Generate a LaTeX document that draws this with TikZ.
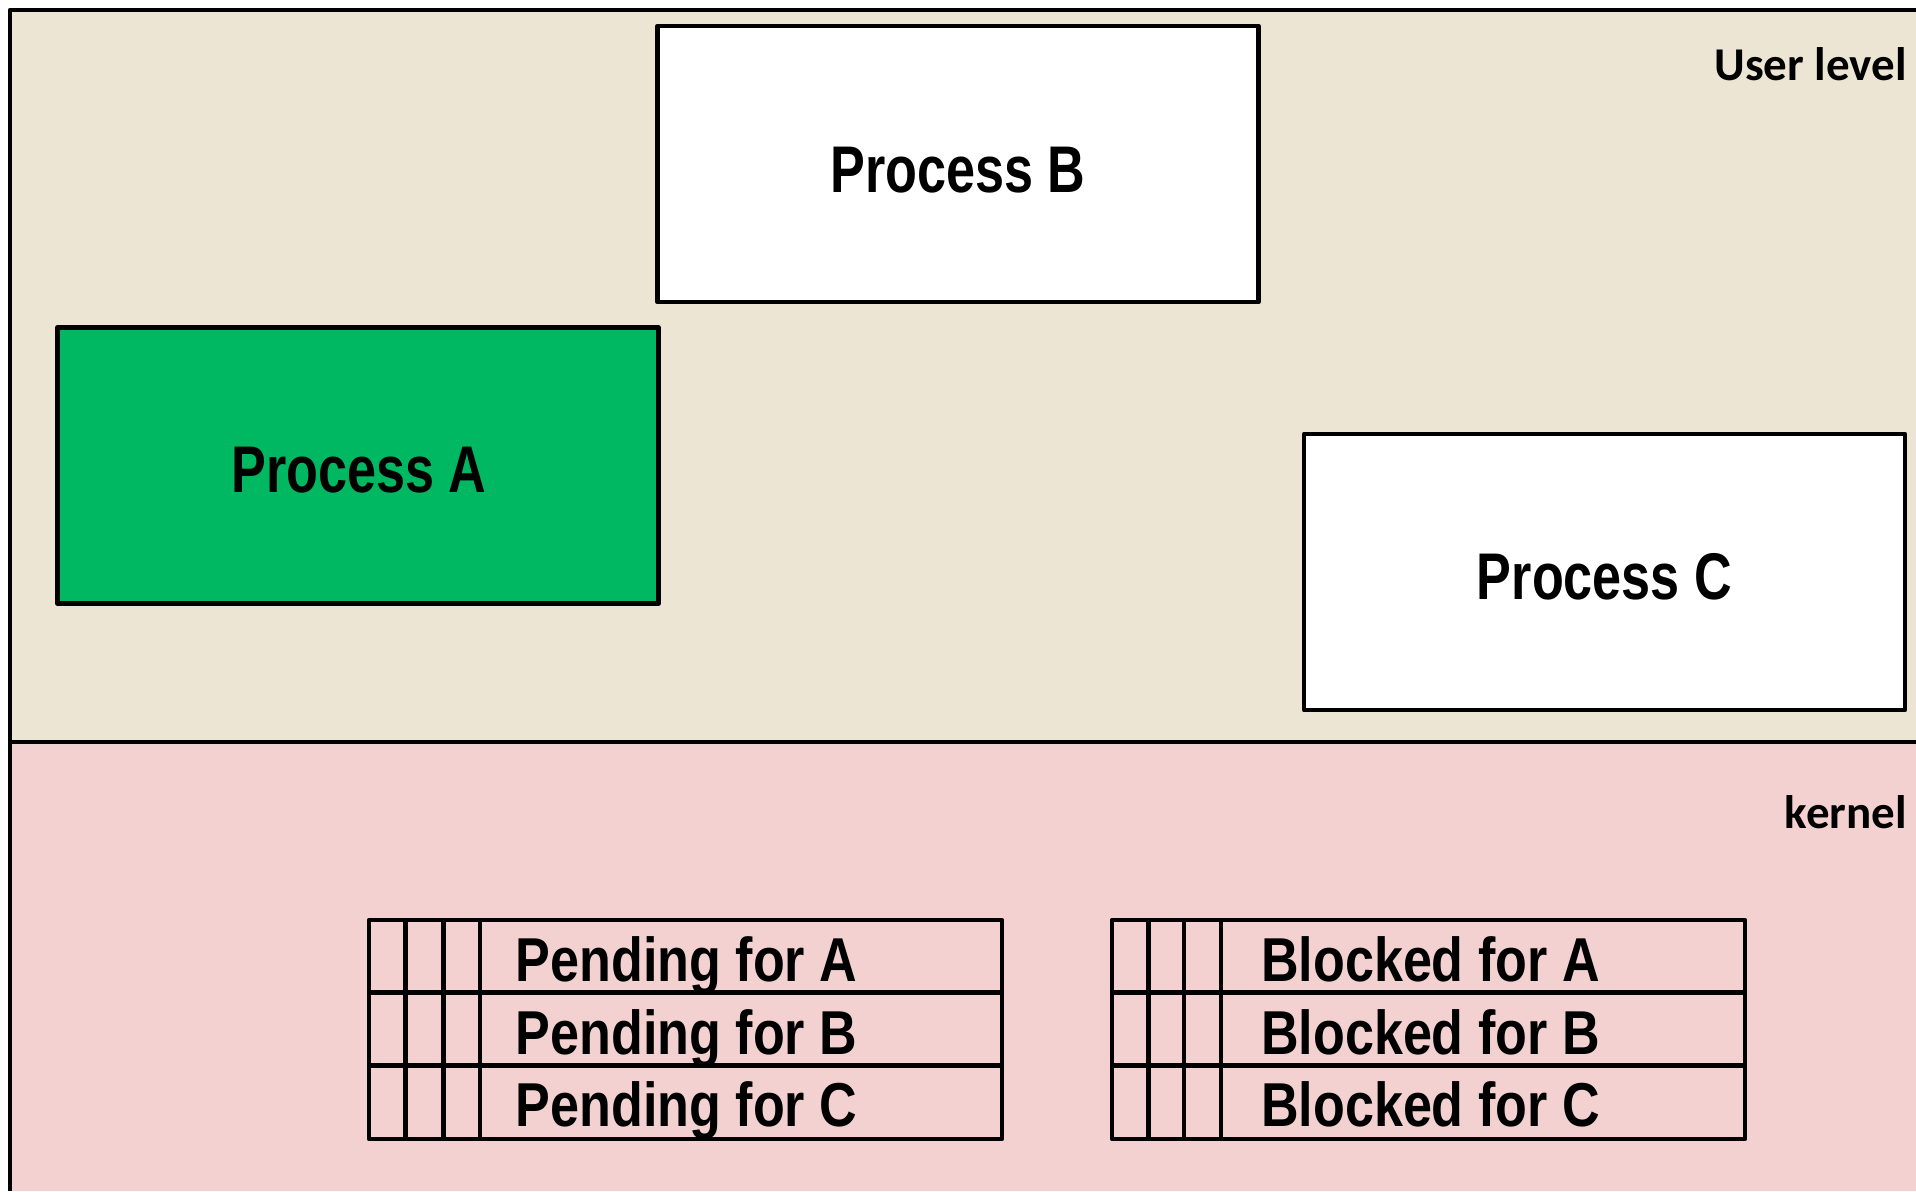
\documentclass[tikz,border=0pt]{standalone}
\usepackage{fontspec}
\newfontfamily\nb[FakeStretch=0.79]{Liberation Sans}
\newfontfamily\nr[FakeStretch=0.84]{Liberation Sans}
\newfontfamily\cb{Carlito}
\definecolor{userbg}{RGB}{237,229,211}
\definecolor{kernbg}{RGB}{243,209,209}
\definecolor{procgreen}{RGB}{0,184,98}
\begin{document}
\begin{tikzpicture}[x=1pt,y=-1pt,
  line join=round,
  frame/.style={line width=4.2pt},
  procbox/.style={draw,line width=4.5pt,line join=round,fill=white,
    inner sep=0pt,minimum width=601pt,minimum height=276pt},
  proctext/.style={anchor=base,inner sep=0pt,
    font=\nb\bfseries\fontsize{66}{70}\selectfont},
  rowtext/.style={anchor=base west,inner sep=0pt,
    font=\nr\bfseries\fontsize{62}{66}\selectfont},
  leveltext/.style={anchor=base east,inner sep=0pt,
    font=\cb\bfseries\fontsize{47}{50}\selectfont},
  tab/.style={line width=4.5pt}]
\useasboundingbox (0,0) rectangle (1916,1191);
% backgrounds
\fill[userbg] (10,10) rectangle (1916,742);
\fill[kernbg] (10,742) rectangle (1916,1191);
\draw[frame] (1916,10) -- (10,10) -- (10,1191);
\draw[frame] (10,742) -- (1916,742);
% level labels
\node[leveltext] (ul) at (1907,80.5) {User level};
\node[leveltext] (kl) at (1907,828.5) {kernel};
% processes
\node[procbox] (pb) at (958,164) {};
\node[procbox,fill=procgreen] (pa) at (358,465.6) {};
\node[procbox] (pc) at (1604.5,572) {};
\node[proctext] (tb) at (958,192) {Process B};
\node[proctext] (ta) at (359,492.5) {Process A};
\node[proctext] (tc) at (1604.5,599) {Process C};
% pending table
\draw[tab] (369,920) rectangle (1002,1139);
\draw[tab] (369,992.3) -- (1002,992.3);
\draw[tab] (369,1065.6) -- (1002,1065.6);
\draw[tab] (405.7,920) -- (405.7,1139);
\draw[tab] (443.6,920) -- (443.6,1139);
\draw[tab] (480.2,920) -- (480.2,1139);
\node[rowtext] (pA) at (515.7,981) {Pending for A};
\node[rowtext] (pB) at (515.7,1054.6) {Pending for B};
\node[rowtext] (pC) at (515.7,1126.7) {Pending for C};
% blocked table
\draw[tab] (1112,920) rectangle (1745,1139);
\draw[tab] (1112,992.3) -- (1745,992.3);
\draw[tab] (1112,1065.6) -- (1745,1065.6);
\draw[tab] (1148.7,920) -- (1148.7,1139);
\draw[tab] (1184,920) -- (1184,1139);
\draw[tab] (1220.8,920) -- (1220.8,1139);
\node[rowtext] (bA) at (1261,981) {Blocked for A};
\node[rowtext] (bB) at (1261,1054.6) {Blocked for B};
\node[rowtext] (bC) at (1261,1126.7) {Blocked for C};
\end{tikzpicture}
\end{document}
